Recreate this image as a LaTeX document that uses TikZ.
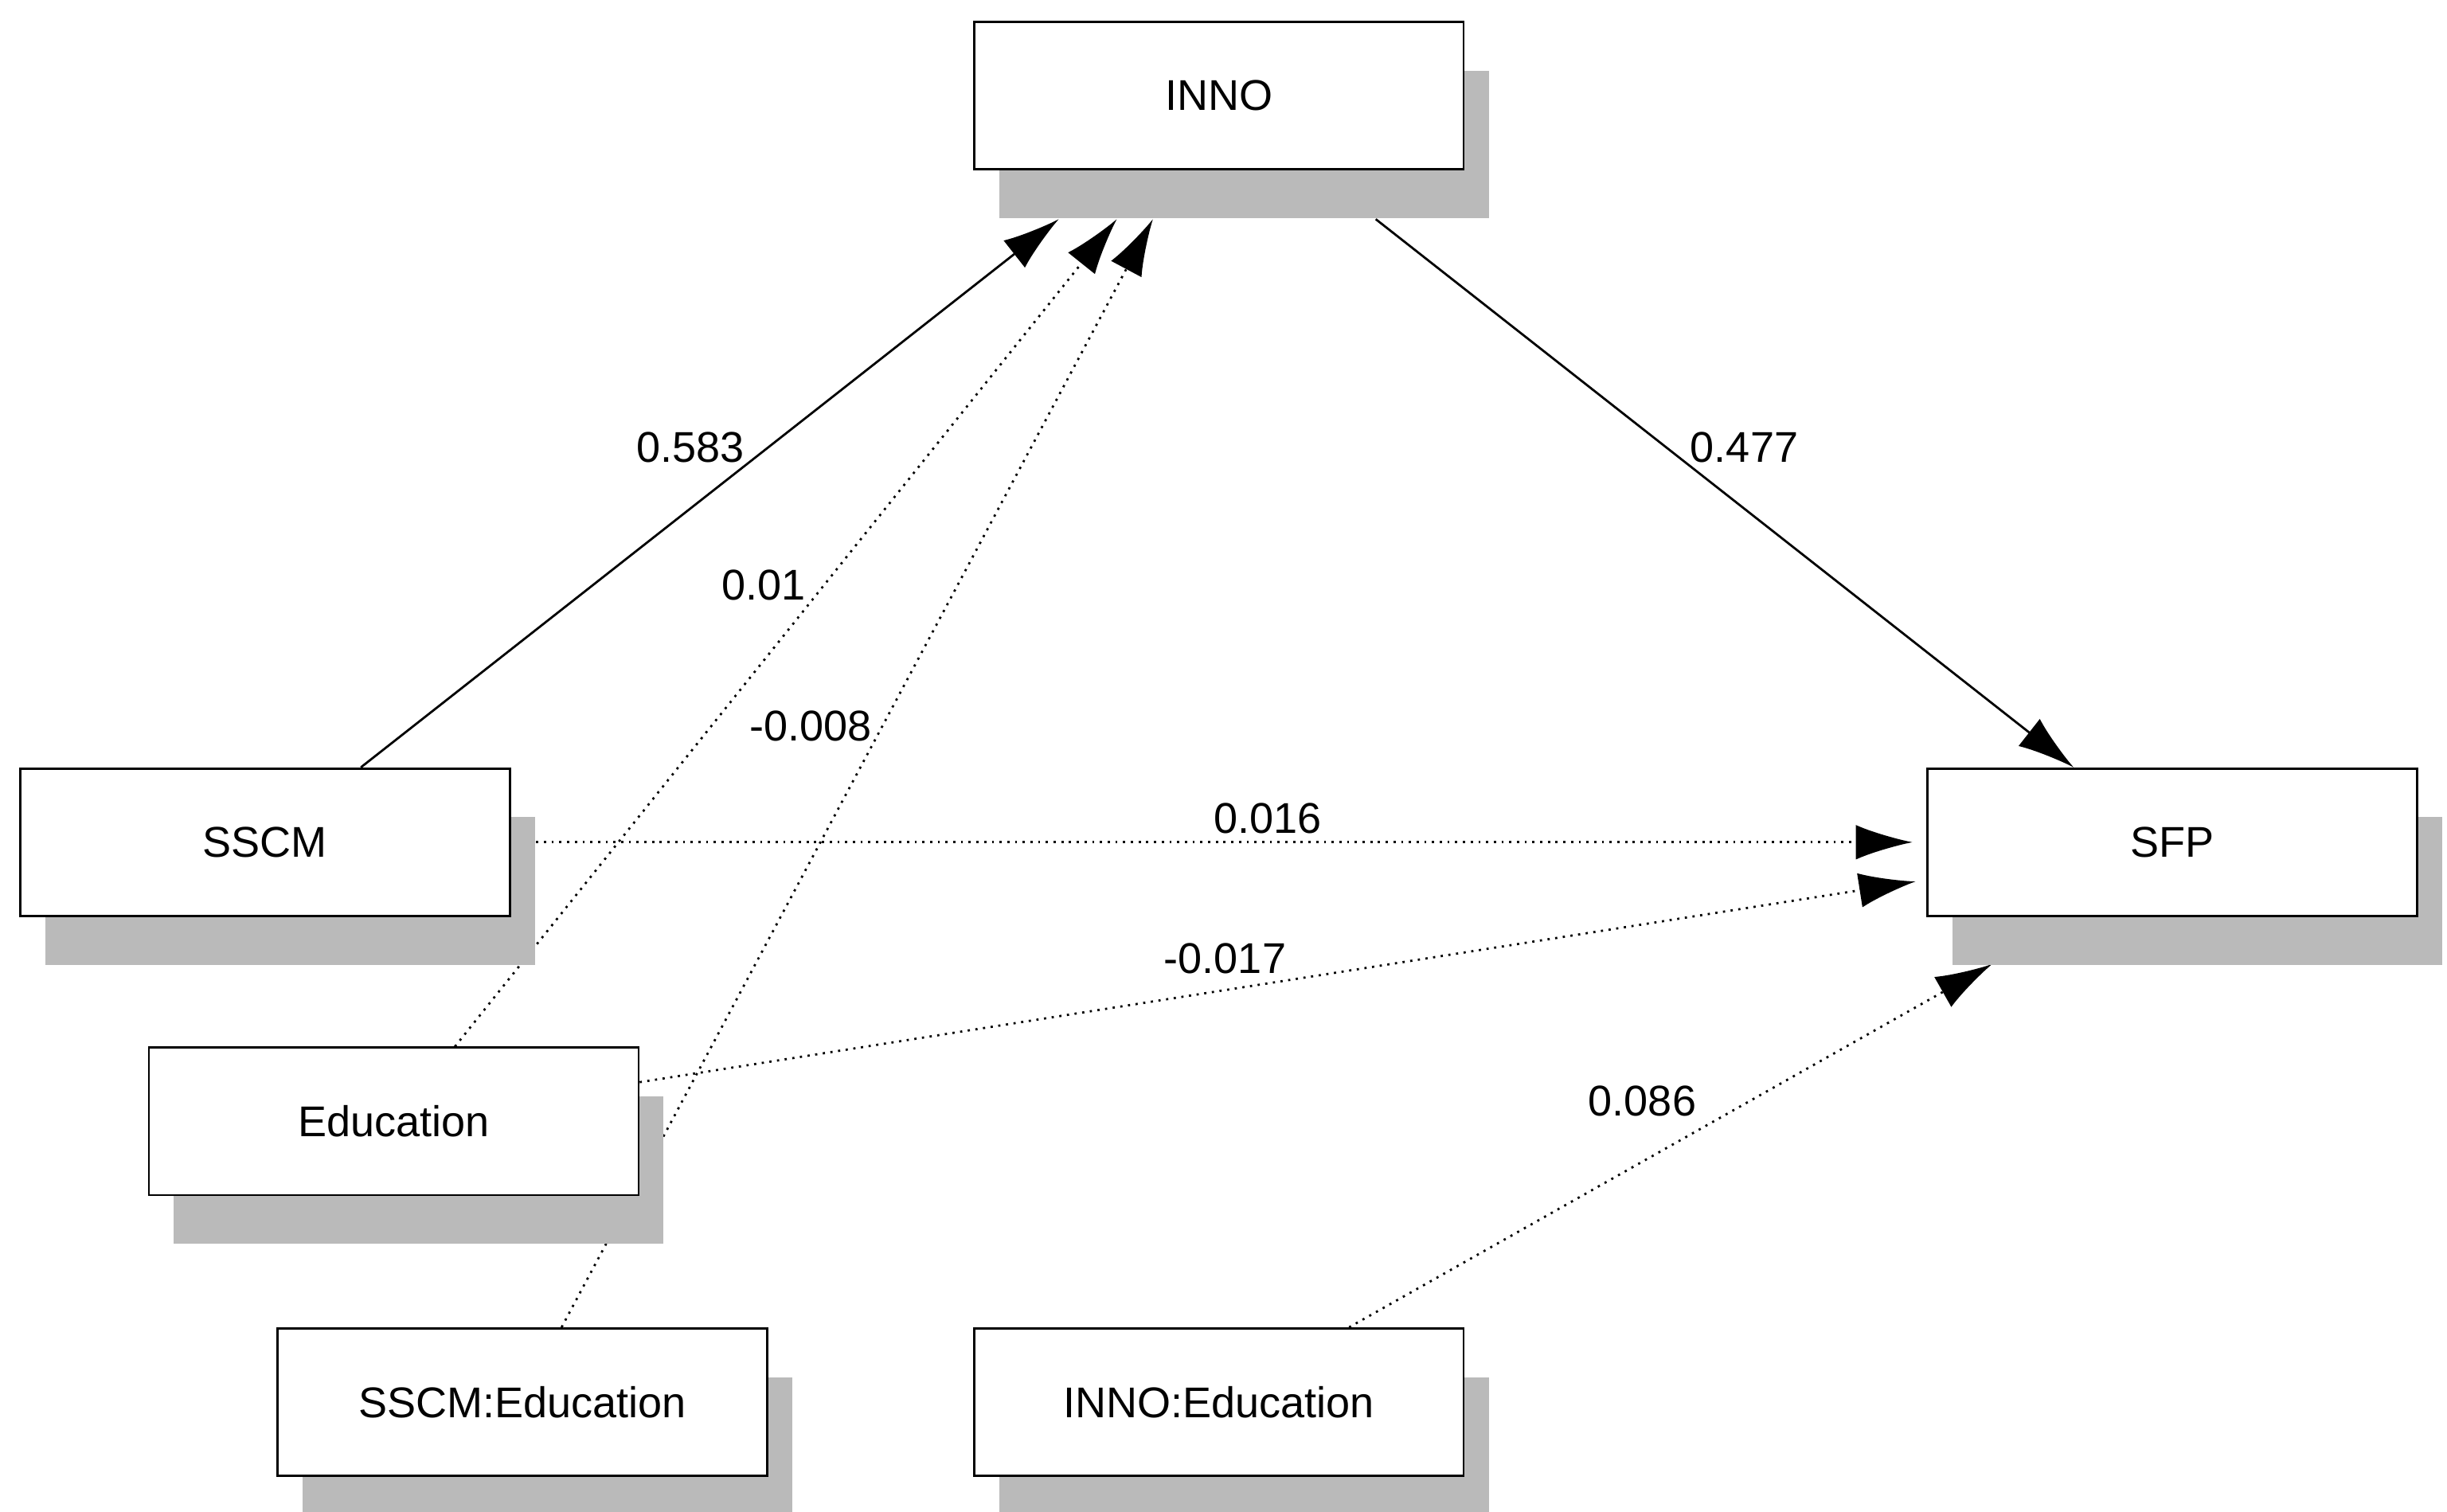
\documentclass[tikz,border=0pt]{standalone}
\usepackage{fontspec}
\setmainfont{Liberation Sans}
\usetikzlibrary{arrows.meta,shadows,positioning,backgrounds}
\tikzset{
  var/.style   = {draw, thin, fill=white, minimum width=3.12cm, minimum height=0.94cm,
                  font=\fontsize{7.8}{9}\selectfont,
                  drop shadow={shadow xshift=0.16cm, shadow yshift=-0.31cm, fill=black!27, opacity=1}},
  coef/.style  = {font=\fontsize{7.8}{9}\selectfont, inner sep=1pt},
  path/.style  = {thin, -{Latex[length=3.6mm, width=2.2mm]}},
  weak/.style  = {path, densely dotted}
}

\begin{document}
\begin{tikzpicture}[x=0.01cm, y=-0.01cm]
\useasboundingbox (0,0) rectangle (1560,964);

% the variables
\node[var] (inno) at (777,61) {INNO};
\node[var] (sscm) at (169,537) {SSCM};
\node[var] (sfp) at (1385,537) {SFP};
\node[var] (educ) at (251,715) {Education};
\node[var] (sscmedu) at (333,894) {SSCM:Education};
\node[var] (innoedu) at (777,894) {INNO:Education};

% paths, behind the boxes and their shadows
\begin{scope}[on background layer]
\draw[path] ([xshift=0.61cm]sscm.north) -- ([shift={(-1.02cm,-0.31cm)}]inno.south);
\draw[weak] ([xshift=0.39cm]educ.north) -- ([shift={(-0.65cm,-0.31cm)}]inno.south);
\draw[weak] ([xshift=0.25cm]sscmedu.north) -- ([shift={(-0.42cm,-0.31cm)}]inno.south);
\draw[path] ([shift={(1.0cm,-0.31cm)}]inno.south) -- ([xshift=-0.63cm]sfp.north);
\draw[weak] ([xshift=0.16cm]sscm.east) -- ([xshift=-0.09cm]sfp.west);
\draw[weak] ([yshift=0.25cm]educ.east) -- ([shift={(-0.07cm,-0.25cm)}]sfp.west);
\draw[weak] ([xshift=0.83cm]innoedu.north) -- ([shift={(-1.15cm,-0.30cm)}]sfp.south);
\end{scope}

% coefficients
\node[coef] (c1) at (440,285) {0.583};
\node[coef] (c2) at (487,373) {0.01};
\node[coef] (c3) at (517,463) {-0.008};
\node[coef] (c4) at (1112,285) {0.477};
\node[coef] (c5) at (808,522) {0.016};
\node[coef] (c6) at (781,611) {-0.017};
\node[coef] (c7) at (1047,702) {0.086};

\end{tikzpicture}
\end{document}
